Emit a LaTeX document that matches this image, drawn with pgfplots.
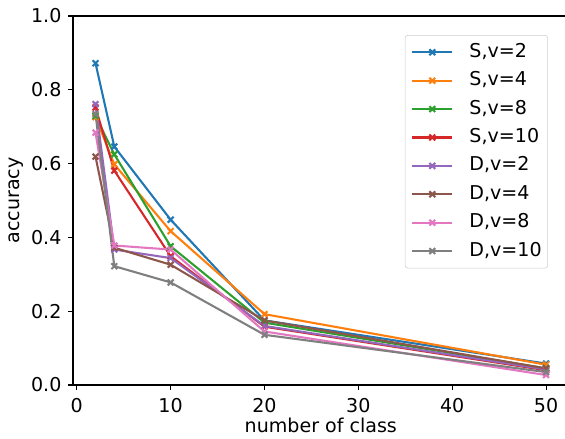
\documentclass[border=0pt]{standalone}
\usepackage{fontspec}
\setmainfont{DejaVu Sans}
\usepackage{pgfplots}
\pgfplotsset{compat=1.18}
\definecolor{tabblue}{HTML}{1F77B4}
\definecolor{taborange}{HTML}{FF7F0E}
\definecolor{tabgreen}{HTML}{2CA02C}
\definecolor{tabred}{HTML}{D62728}
\definecolor{tabpurple}{HTML}{9467BD}
\definecolor{tabbrown}{HTML}{8C564B}
\definecolor{tabpink}{HTML}{E377C2}
\definecolor{tabgray}{HTML}{7F7F7F}
\newcommand{\fs}{\fontsize{14.3}{17}\selectfont}
\begin{document}
\begin{tikzpicture}
\begin{axis}[
  name=ax,
  scale only axis,
  width=371.7pt, height=276.75pt,
  xmin=-0.4, xmax=52.4, ymin=0, ymax=1,
  xtick={0,10,20,30,40,50},
  ytick={0,0.2,0.4,0.6,0.8,1.0},
  /pgf/number format/assume math mode=true,
  tick align=outside, tick pos=left,
  major tick length=3.6pt,
  tick style={black, line width=0.8pt},
  axis line style={line width=0.8pt},
  ticklabel style={font=\fs, inner sep=0pt},
  xticklabel shift=6.4pt,
  yticklabel shift=4.9pt,
  xticklabel style={anchor=north},
  yticklabel style={anchor=east, /pgf/number format/.cd, fixed, fixed zerofill, precision=1},
  xlabel={number of class},
  ylabel={accuracy},
  xlabel style={font=\fs, at={(axis description cs:0.5,0)}, anchor=base, yshift=-35.8pt},
  ylabel style={font=\fs, at={(axis description cs:0,0.5)}, anchor=center, yshift=42.5pt},
  every axis plot/.append style={line width=1.56pt, mark=x, mark size=3.1pt},
  legend style={at={(0.9584,0.9485)}, anchor=north east,
    draw=black!20, rounded corners=2pt, fill=white, fill opacity=0.8, text opacity=1,
    font=\fs, row sep=7.8pt, column sep=12pt,
    inner xsep=4.5pt, inner ysep=6pt,
    nodes={inner sep=0pt, text height=10.5pt, text depth=3pt}},
  legend cell align=left,
  legend image code/.code={
    \draw[mark repeat=2,mark phase=2] plot coordinates {(0cm,0cm) (0.53cm,0cm) (1.06cm,0cm)};},
]
\addplot[tabblue] coordinates {(2,0.872)(4,0.646)(10,0.448)(20,0.175)(50,0.058)};
\addplot[taborange] coordinates {(2,0.726)(4,0.598)(10,0.417)(20,0.192)(50,0.055)};
\addplot[tabgreen] coordinates {(2,0.729)(4,0.625)(10,0.376)(20,0.169)(50,0.045)};
\addplot[tabred] coordinates {(2,0.752)(4,0.581)(10,0.349)(20,0.158)(50,0.040)};
\addplot[tabpurple] coordinates {(2,0.761)(4,0.367)(10,0.344)(20,0.160)(50,0.042)};
\addplot[tabbrown] coordinates {(2,0.619)(4,0.372)(10,0.326)(20,0.175)(50,0.045)};
\addplot[tabpink] coordinates {(2,0.684)(4,0.378)(10,0.367)(20,0.145)(50,0.027)};
\addplot[tabgray] coordinates {(2,0.734)(4,0.322)(10,0.278)(20,0.136)(50,0.035)};
\legend{{S,v=2},{S,v=4},{S,v=8},{S,v=10},{D,v=2},{D,v=4},{D,v=8},{D,v=10}}
\end{axis}
\pgfresetboundingbox
\path[use as bounding box] ([xshift=-54.75pt,yshift=-40.5pt]ax.south west)
  rectangle ([xshift=369pt,yshift=288.75pt]ax.south west);
\end{tikzpicture}
\end{document}
